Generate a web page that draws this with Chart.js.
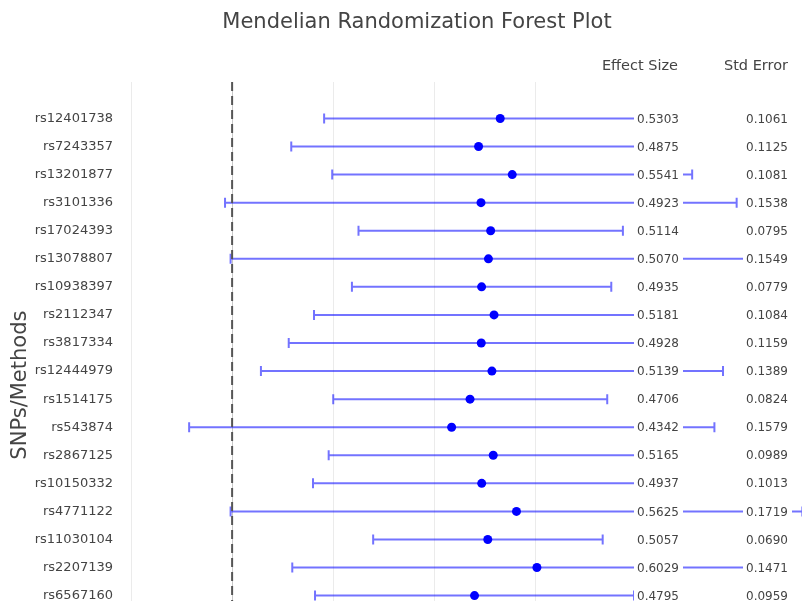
<!DOCTYPE html>
<html>
<head>
<meta charset="utf-8">
<title>Mendelian Randomization Forest Plot</title>
<script src="https://cdn.jsdelivr.net/npm/chart.js@4.4.1/dist/chart.umd.min.js"></script>
<style>
  html, body { margin: 0; padding: 0; background: #fff; overflow: hidden; }
  #wrap { width: 802px; height: 714px; }
</style>
</head>
<body>
<div id="wrap"><canvas id="forestChart" width="802" height="714"></canvas></div>
<script>
// SNP rows, top to bottom
const snps = [
    "rs12401738", "rs7243357", "rs13201877", "rs3101336", "rs17024393",
    "rs13078807", "rs10938397", "rs2112347", "rs3817334", "rs12444979",
    "rs1514175", "rs543874", "rs2867125", "rs10150332", "rs4771122",
    "rs11030104", "rs2207139", "rs6567160"
];
const effect = [
    0.5303, 0.4875, 0.5541, 0.4923, 0.5114,
    0.5070, 0.4935, 0.5181, 0.4928, 0.5139,
    0.4706, 0.4342, 0.5165, 0.4937, 0.5625,
    0.5057, 0.6029, 0.4795
];
const stdErr = [
    0.1061, 0.1125, 0.1081, 0.1538, 0.0795,
    0.1549, 0.0779, 0.1084, 0.1159, 0.1389,
    0.0824, 0.1579, 0.0989, 0.1013, 0.1719,
    0.0690, 0.1471, 0.0959
];
// whisker ends
const ciLow = [
    0.182, 0.117, 0.198, -0.014, 0.250,
    -0.003, 0.237, 0.162, 0.112, 0.057,
    0.200, -0.085, 0.191, 0.160, -0.003,
    0.279, 0.119, 0.164
];
const ciHigh = [
    0.879, 0.858, 0.910, 0.998, 0.773,
    1.017, 0.750, 0.875, 0.874, 0.971,
    0.742, 0.954, 0.842, 0.827, 1.128,
    0.733, 1.087, 0.795
];
const xTicks = [-0.2, 0, 0.2, 0.4, 0.6];

const FONT = '"DejaVu Sans", Verdana, sans-serif';
const TEXT = '#444';

// error bars, null line and value columns
const forestExtras = {
    id: 'forestExtras',
    beforeDatasetsDraw(chart) {
        const { ctx, chartArea, scales: { x, y } } = chart;
        ctx.save();

        ctx.strokeStyle = 'rgba(0, 0, 255, 0.55)';
        ctx.lineWidth = 2;
        snps.forEach(function(s, i) {
            const py = y.getPixelForValue(i);
            const a = x.getPixelForValue(ciLow[i]);
            const b = x.getPixelForValue(ciHigh[i]);
            ctx.beginPath();
            ctx.moveTo(a, py); ctx.lineTo(b, py);
            ctx.moveTo(a, py - 5); ctx.lineTo(a, py + 5);
            ctx.moveTo(b, py - 5); ctx.lineTo(b, py + 5);
            ctx.stroke();
        });

        // dashed reference line at zero
        const x0 = x.getPixelForValue(0);
        ctx.strokeStyle = '#555';
        ctx.lineWidth = 2;
        ctx.setLineDash([9, 5]);
        ctx.beginPath();
        ctx.moveTo(x0, chartArea.top);
        ctx.lineTo(x0, chartArea.bottom);
        ctx.stroke();
        ctx.setLineDash([]);

        // value columns with white background
        ctx.font = '12px ' + FONT;
        ctx.textAlign = 'right';
        ctx.textBaseline = 'middle';
        snps.forEach(function(s, i) {
            const py = y.getPixelForValue(i);
            [[effect[i], 679], [stdErr[i], 788]].forEach(function(c) {
                const txt = c[0].toFixed(4);
                const w = ctx.measureText(txt).width;
                ctx.fillStyle = '#fff';
                ctx.fillRect(c[1] - w - 3, py - 8, w + 7, 16);
                ctx.fillStyle = TEXT;
                ctx.fillText(txt, c[1], py + 1);
            });
        });
        ctx.restore();
    },
    afterDraw(chart) {
        const ctx = chart.ctx;
        ctx.save();
        ctx.fillStyle = TEXT;
        ctx.textBaseline = 'middle';
        ctx.textAlign = 'center';
        ctx.font = '21px ' + FONT;
        ctx.fillText('Mendelian Randomization Forest Plot', 417, 23);
        ctx.textAlign = 'right';
        ctx.font = '14.5px ' + FONT;
        ctx.fillText('Effect Size', 678, 66);
        ctx.fillText('Std Error', 788, 66);
        ctx.restore();
    }
};

const forest = new Chart(document.getElementById('forestChart'), {
    type: 'scatter',
    data: {
        datasets: [{
            data: effect.map(function(v, i) { return { x: v, y: i }; }),
            backgroundColor: '#0000ff',
            borderColor: '#0000ff',
            pointRadius: 4.5,
            borderWidth: 0
        }]
    },
    options: {
        responsive: false,
        animation: false,
        events: [],
        layout: { padding: { left: 0, right: 216, top: 82, bottom: 12 } },
        plugins: {
            legend: { display: false },
            tooltip: { enabled: false },
            title: { display: false }
        },
        scales: {
            x: {
                type: 'linear',
                min: -0.2,
                max: 0.7,
                afterBuildTicks: function(scale) {
                    scale.ticks = xTicks.map(function(v) { return { value: v }; });
                },
                afterFit: function(scale) { scale.height = 0; },
                ticks: { display: false },
                border: { display: false },
                grid: {
                    drawTicks: false,
                    color: function(c) { return c.tick && c.tick.value === 0 ? '#c8c8c8' : '#ebebeb'; },
                    lineWidth: 1
                }
            },
            y: {
                type: 'linear',
                reverse: true,
                min: -1.3,
                max: 20.3,
                afterBuildTicks: function(scale) {
                    scale.ticks = snps.map(function(s, i) { return { value: i }; });
                },
                afterFit: function(scale) { scale.width = 131; },
                ticks: {
                    padding: 18,
                    color: TEXT,
                    font: { family: FONT, size: 13 },
                    callback: function(v) { return snps[v] || ''; }
                },
                border: { display: false },
                grid: { display: false, drawTicks: false },
                title: {
                    display: true,
                    text: 'SNPs/Methods',
                    color: TEXT,
                    font: { family: FONT, size: 21 },
                    padding: { top: 8, bottom: 0 }
                }
            }
        }
    },
    plugins: [forestExtras]
});
</script>
</body>
</html>
